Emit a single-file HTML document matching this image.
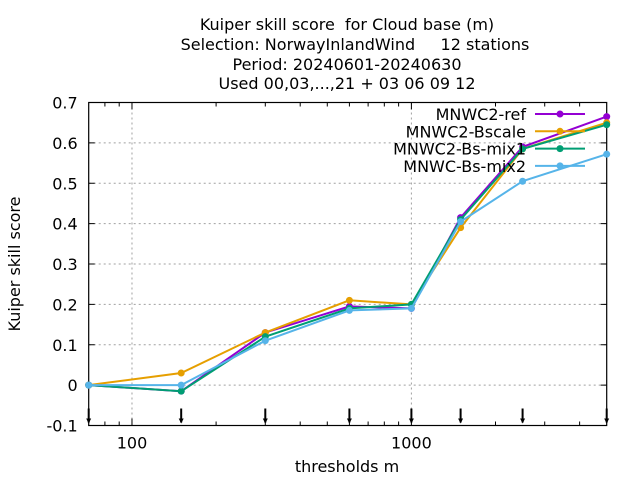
<!DOCTYPE html>
<html><head><meta charset="utf-8"><style>
body{margin:0;background:#fff}
svg{display:block;font-family:"DejaVu Sans","Liberation Sans",sans-serif}
text{white-space:pre}
</style></head><body>
<svg id="chart" width="640" height="480" viewBox="0 0 640 480" xmlns="http://www.w3.org/2000/svg" xml:space="preserve">
<g font-size="16" text-anchor="middle" fill="#000">
<text x="347" y="30">Kuiper skill score  for Cloud base (m)</text>
<text x="355" y="50">Selection: NorwayInlandWind     12 stations</text>
<text x="347" y="70">Period: 20240601-20240630</text>
<text x="347" y="89">Used 00,03,...,21 + 03 06 09 12</text>
</g>
<g id="grid"></g>
<g id="axes"></g>
<g id="series"></g>
<g id="legend"></g>
<text x="20" y="264" font-size="16" text-anchor="middle" transform="rotate(-90 20 264)">Kuiper skill score</text>
<text x="347" y="472" font-size="16" text-anchor="middle">thresholds m</text>
</svg>
<script>
const thresholds=[70,150,300,600,1000,1500,2500,5000];
const seriesNames=["MNWC2-ref","MNWC2-Bscale","MNWC2-Bs-mix1","MNWC-Bs-mix2"];
const refVals=[0,-0.015,0.13,0.195,0.19,0.415,0.59,0.665];
const bscaleVals=[0,0.03,0.13,0.21,0.2,0.39,0.585,0.65];
const mix1Vals=[0,-0.015,0.12,0.19,0.2,0.41,0.585,0.645];
const mix2Vals=[0,0,0.11,0.185,0.19,0.405,0.505,0.572];
const yTicks=[-0.1,0,0.1,0.2,0.3,0.4,0.5,0.6,0.7];
const yTickLabels=["-0.1","0","0.1","0.2","0.3","0.4","0.5","0.6","0.7"];
const xTicks=[100,1000];
const xTickLabels=["100","1000"];

const NS="http://www.w3.org/2000/svg";
const L=88.7,R=606.7,T=102.5,B=425.5;
const xmin=70,xmax=5000,ymin=-0.1,ymax=0.7;
const X=v=>L+(Math.log10(v)-Math.log10(xmin))/(Math.log10(xmax)-Math.log10(xmin))*(R-L);
const Y=v=>B-(v-ymin)/(ymax-ymin)*(B-T);
function mk(tag,attrs,parent){const e=document.createElementNS(NS,tag);for(const k in attrs)e.setAttribute(k,attrs[k]);parent.appendChild(e);return e;}
const grid=document.getElementById('grid'),axes=document.getElementById('axes'),ser=document.getElementById('series'),leg=document.getElementById('legend');

yTicks.forEach((v,i)=>{
  const y=Y(v);
  if(i>0&&i<yTicks.length-1){const g=mk('line',{x1:L,x2:R,y1:y,y2:y,stroke:'#a0a0a0','stroke-width':1,'stroke-dasharray':'2,3'},grid);
  
  }
  mk('line',{x1:L,x2:L+6,y1:y,y2:y,stroke:'#000'},axes);
  mk('line',{x1:R,x2:R-6,y1:y,y2:y,stroke:'#000'},axes);
  const t=mk('text',{x:L-11,y:y+6,'font-size':16,'text-anchor':'end'},axes);
  
  
  t.textContent=yTickLabels[i];
});
xTicks.forEach((v,i)=>{
  const x=X(v);
  const g=mk('line',{x1:x,x2:x,y1:T,y2:B,stroke:'#a0a0a0','stroke-width':1,'stroke-dasharray':'2,3'},grid);
  
  
  mk('line',{x1:x,x2:x,y1:B,y2:B-7,stroke:'#000'},axes);
  mk('line',{x1:x,x2:x,y1:T,y2:T+7,stroke:'#000'},axes);
  const t=mk('text',{x:x,y:B+23,'font-size':16,'text-anchor':'middle'},axes);
  
  
  t.textContent=xTickLabels[i];
});
[80,90,200,300,400,500,600,700,800,900,2000,3000,4000].forEach(v=>{
  const x=X(v);
  mk('line',{x1:x,x2:x,y1:B,y2:B-4,stroke:'#000'},axes);
  mk('line',{x1:x,x2:x,y1:T,y2:T+4,stroke:'#000'},axes);
});
mk('rect',{x:L,y:T,width:R-L,height:B-T,fill:'none',stroke:'#000','stroke-width':1.2},axes);
thresholds.forEach(v=>{
  const x=X(v);
  const a=mk('g',{},axes);
  
  
  mk('line',{x1:x,x2:x,y1:B-17,y2:B-3,stroke:'#000','stroke-width':2},a);
  mk('path',{d:`M${x-2.5},${B-7} L${x+2.5},${B-7} L${x},${B-2} Z`,fill:'#000'},a);
});

const colors=["#9400d3","#e69f00","#009e73","#56b4e9"];
const allVals=[refVals,bscaleVals,mix1Vals,mix2Vals];
allVals.forEach((vals,s)=>{
  const g=mk('g',{},ser);
  
  
  const pts=vals.map((v,i)=>X(thresholds[i]).toFixed(1)+','+Y(v).toFixed(1)).join(' ');
  mk('polyline',{points:pts,fill:'none',stroke:colors[s],'stroke-width':2},g);
  vals.forEach((v,i)=>{
    const c=mk('circle',{cx:X(thresholds[i]),cy:Y(v),r:3.5,fill:colors[s]},g);
    
    
  });
  const ly=114+s*17.3;
  const e=mk('g',{},leg);
  
  
  const t=mk('text',{x:526,y:ly+6,'font-size':16,'text-anchor':'end'},e);
  t.textContent=seriesNames[s];
  mk('line',{x1:535,x2:585,y1:ly,y2:ly,stroke:colors[s],'stroke-width':2},e);
  mk('circle',{cx:560,cy:ly,r:3.5,fill:colors[s]},e);
});
</script>
</body></html>
